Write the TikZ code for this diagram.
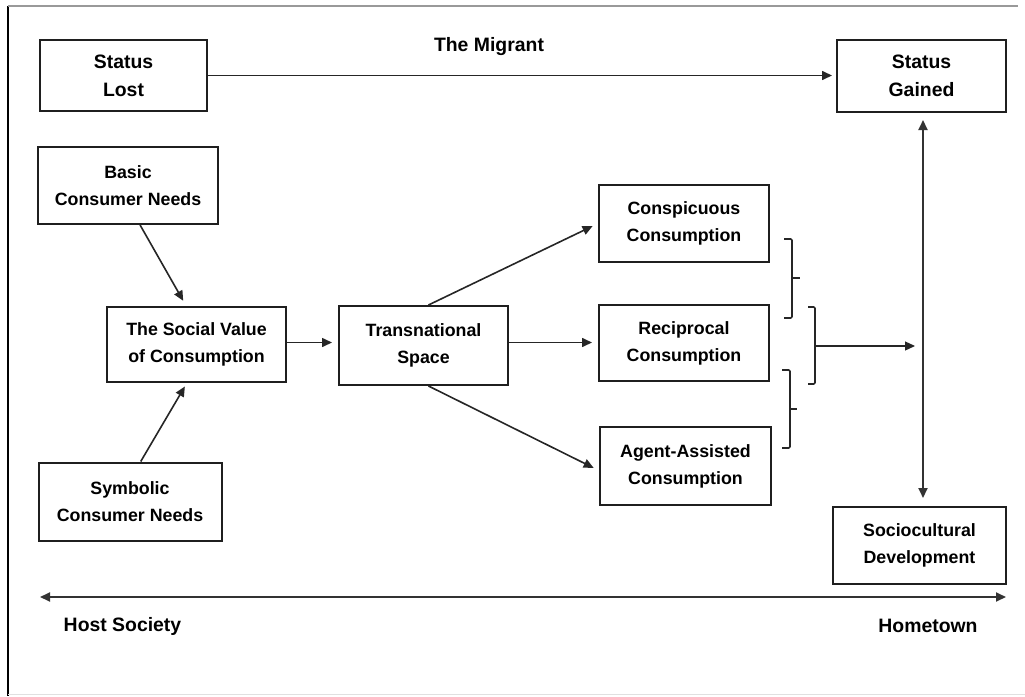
\documentclass[tikz,border=0pt]{standalone}
\usepackage{fontspec}
\setmainfont{Liberation Sans}
\usetikzlibrary{arrows.meta}
\tikzset{
  box/.style={draw=black!88, line width=2pt, align=center, inner sep=0pt,
    font=\bfseries\fontsize{17.8}{27}\selectfont},
  statusbox/.style={box, font=\bfseries\fontsize{19.4}{28}\selectfont},
  lbl/.style={font=\bfseries\fontsize{19.4}{24}\selectfont, inner sep=0pt},
  conn/.style={draw=black!85, line width=1.6pt, -{Triangle[length=10pt,width=9pt]}},
  dconn/.style={draw=black!80, line width=1.8pt, {Triangle[length=10pt,width=9pt]}-{Triangle[length=10pt,width=9pt]}},
  brk/.style={draw=black!85, line width=1.6pt, rounded corners=1.2pt},
}
\begin{document}
\begin{tikzpicture}[x=1pt,y=-1pt]
\useasboundingbox (0,0) rectangle (1025,696);
% frame
\draw[black, line width=1.5pt] (8,6) -- (8,696);
\draw[black!40, line width=2pt] (8,6) -- (1018,6);
\draw[black!12, line width=1pt] (8,694) -- (1025,694);

% nodes
\node[statusbox, minimum width=167pt, minimum height=71pt] (lost) at (123.5,75.5) {Status\\Lost};
\node[statusbox, minimum width=169pt, minimum height=72pt] (gained) at (921.5,76) {Status\\Gained};
\node[lbl] (migrant) at (489,47) {The Migrant};
\node[box, minimum width=180pt, minimum height=77pt] (basic) at (128,185.5) {Basic\\Consumer Needs};
\node[box, minimum width=179pt, minimum height=75pt] (social) at (196.5,344.5) {The Social Value\\of Consumption};
\node[box, minimum width=183pt, minimum height=78pt] (symbolic) at (130,501.5) {Symbolic\\Consumer Needs};
\node[box, minimum width=169pt, minimum height=79pt] (trans) at (423.5,345.5) {Transnational\\Space};
\node[box, minimum width=170pt, minimum height=77pt] (consp) at (684,223.5) {Conspicuous\\Consumption};
\node[box, minimum width=170pt, minimum height=76pt] (recip) at (684,343) {Reciprocal\\Consumption};
\node[box, minimum width=171pt, minimum height=78pt] (agent) at (685.5,466) {Agent-Assisted\\Consumption};
\node[box, minimum width=173pt, minimum height=77pt] (socio) at (919.5,545.5) {Sociocultural\\Development};
\node[lbl] (host) at (122.5,626) {Host Society};
\node[lbl] (home) at (928,626) {Hometown};

% connectors
\draw[conn, shorten >=4pt] (lost.east) -- (lost.east -| gained.west);
\draw[conn, shorten >=6pt] (basic.-73) -- (social.105);
\draw[conn, shorten >=4pt] (symbolic.75) -- (social.-104);
\draw[conn, shorten >=6pt] ([yshift=2pt]social.east) -- ([yshift=2pt]social.east -| trans.west);
\draw[conn, shorten >=6pt] (trans.83) -- (consp.west);
\draw[conn, shorten >=6pt] ([yshift=3pt]trans.east) -- ([yshift=3pt]trans.east -| recip.west);
\draw[conn, shorten >=6pt] (trans.-83) -- (agent.183);
\draw[dconn, shorten <=7pt, shorten >=8pt] ([xshift=1.5pt]gained.south) -- ([xshift=3.5pt]socio.north);

% brackets
\draw[brk] (784,239) -- (792,239) -- (792,318) -- (784,318);
\draw[brk] (792,278) -- (800,278);
\draw[brk] (808,307) -- (815,307) -- (815,384) -- (808,384);
\draw[brk] (782,370) -- (790,370) -- (790,448) -- (782,448);
\draw[brk] (790,409) -- (797,409);
\coordinate (bstart) at (815,346);
\coordinate (bend) at (915,346);
\draw[conn, line width=1.2pt] (bstart) -- (bend);

% host-hometown axis
\coordinate (hostend) at (40,597);
\coordinate (homeend) at (1006,597);
\draw[dconn] (hostend) -- (homeend);
\end{tikzpicture}
\end{document}
